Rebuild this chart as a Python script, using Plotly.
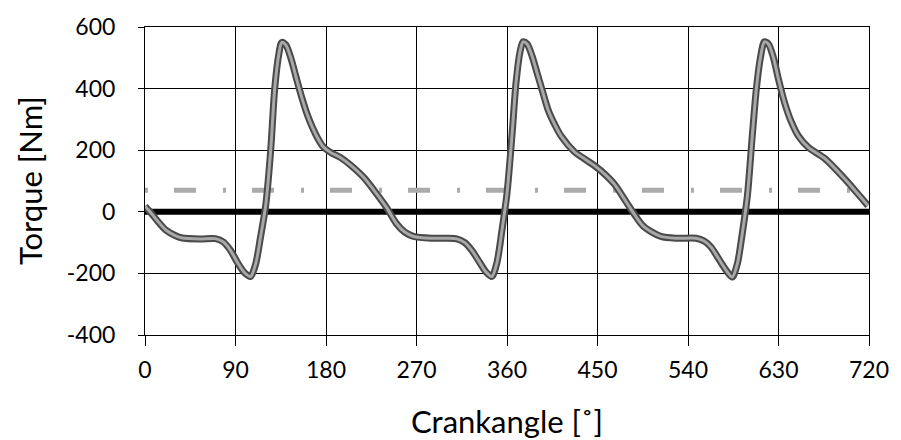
import plotly.graph_objects as go

# Crank angle [deg] and torque [Nm]
crank_angle = [0, 5, 12, 21, 30, 37, 55, 70, 78, 85, 92, 99, 105, 110, 115, 120, 125, 129, 133, 136, 140,
               145, 150, 156, 162, 170, 177, 185, 195, 205, 218, 230, 240, 250, 258, 267, 285, 300, 310,
               318, 325, 332, 339, 345, 350, 355, 360, 365, 369, 373, 376, 380, 385, 390, 395, 401, 408,
               414, 427, 437, 447, 458, 467, 479, 487, 496, 513, 530, 548, 556, 563, 570, 578, 584, 589,
               594, 599, 604, 608, 612, 616, 620, 625, 630, 636, 643, 650, 660, 676, 695, 708, 719]
torque = [18, 0, -28, -60, -77, -85, -88, -87, -98, -125, -165, -198, -210, -170, -80, 20, 200, 400, 510, 550, 542,
          500, 440, 370, 310, 250, 212, 192, 175, 150, 110, 60, 15, -38, -65, -80, -86, -86, -88,
          -100, -125, -160, -195, -210, -165, -60, 60, 250, 420, 520, 552, 545, 505, 450, 395, 330, 280,
          245, 195, 172, 150, 120, 89, 30, -10, -48, -80, -86, -86, -95, -115, -150, -190, -212, -170,
          -70, 50, 250, 400, 500, 552, 545, 500, 430, 355, 290, 245, 208, 173, 110, 62, 20]

ref_x = [0, 720]
zero_level = [0, 0]
mean_torque = [70, 70]

x_ticks = [0, 90, 180, 270, 360, 450, 540, 630, 720]
y_ticks = [-400, -200, 0, 200, 400, 600]

FONT = "Lato"

fig = go.Figure()
fig.add_trace(go.Scatter(x=ref_x, y=mean_torque, mode="lines",
                         line=dict(color="#ababab", width=5, dash="3px,26px,22px,27px"),
                         hoverinfo="skip"))
fig.add_trace(go.Scatter(x=ref_x, y=zero_level, mode="lines",
                         line=dict(color="black", width=6), hoverinfo="skip"))
fig.add_trace(go.Scatter(x=crank_angle, y=torque, mode="lines",
                         line=dict(color="#4a4a4a", width=7, shape="spline", smoothing=0.8)))
fig.add_trace(go.Scatter(x=crank_angle, y=torque, mode="lines",
                         line=dict(color="#a8a8a8", width=3, shape="spline", smoothing=0.8)))

fig.update_layout(
    width=901, height=440,
    margin=dict(l=145, r=23, t=19, b=105),
    paper_bgcolor="white", plot_bgcolor="white",
    showlegend=False,
    font=dict(family=FONT, color="black", size=23),
    xaxis=dict(range=[0, 720], tickvals=x_ticks, ticktext=[str(v) for v in x_ticks],
               showgrid=True, gridcolor="black", gridwidth=1,
               showline=True, linecolor="black", linewidth=1, mirror=True,
               ticks="outside", ticklen=10, tickcolor="black",
               ticklabelstandoff=4, zeroline=False,
               tickfont=dict(family=FONT, size=23)),
    yaxis=dict(range=[-400, 600], tickvals=y_ticks, ticktext=[str(v) for v in y_ticks],
               showgrid=True, gridcolor="black", gridwidth=1,
               showline=True, linecolor="black", linewidth=1, mirror=True,
               ticks="outside", ticklen=6, tickcolor="black",
               ticklabelstandoff=18, zeroline=False,
               tickfont=dict(family=FONT, size=23)),
    annotations=[
        dict(text="Crankangle [˚]", xref="paper", yref="paper", x=0.5, y=0,
             yshift=-86, showarrow=False, font=dict(family=FONT, size=31),
             xanchor="center", yanchor="middle"),
        dict(text="Torque [Nm]", xref="paper", yref="paper", x=0, y=0.5,
             xshift=-115, showarrow=False, font=dict(family=FONT, size=31),
             textangle=-90, xanchor="center", yanchor="middle"),
    ],
)

fig.write_html("out.html")
